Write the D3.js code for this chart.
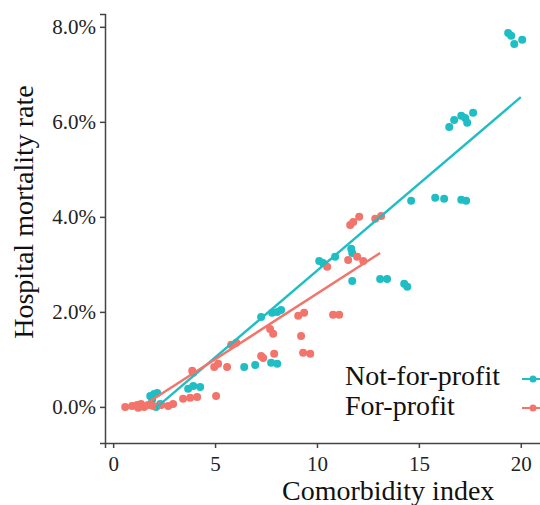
<!DOCTYPE html>
<html>
<head>
<meta charset="utf-8">
<script src="https://cdn.jsdelivr.net/npm/d3@7"></script>
<style>
	body { margin: 0; background: #fff; }
	svg { display: block; font-family: "Liberation Serif", "Times New Roman", serif; }
	.axis path, .axis line { stroke: #444; stroke-width: 1.5; }
	.axis text { fill: #222; font-size: 21px; font-family: "Liberation Serif", serif; }
	.title { fill: #111; font-size: 28px; }
</style>
</head>
<body>
<div id="chart"></div>
<script>
// Data: [comorbidity index, mortality rate]
const notForProfit = [
	[1.82, 0.0023], [2.01, 0.0027], [2.16, 0.0029], [1.91, 0.0015], [2.11, 0.0000], [2.31, 0.0006],
	[3.68, 0.0038], [3.93, 0.0044], [4.27, 0.0042],
	[6.43, 0.0084], [6.97, 0.0088], [7.75, 0.0093], [8.05, 0.0091],
	[7.26, 0.0189], [7.80, 0.0198], [8.05, 0.0200], [8.24, 0.0204],
	[10.11, 0.0307], [10.30, 0.0303], [10.89, 0.0316], [11.68, 0.0333], [11.73, 0.0324],
	[11.73, 0.0265], [13.10, 0.0269], [13.44, 0.0269], [14.28, 0.0259], [14.43, 0.0253],
	[14.62, 0.0434], [15.80, 0.0440], [16.24, 0.0438], [17.08, 0.0436], [17.32, 0.0434],
	[16.49, 0.0589], [16.73, 0.0604], [17.08, 0.0613], [17.27, 0.0608], [17.37, 0.0598], [17.66, 0.0619],
	[19.38, 0.0787], [19.53, 0.0781], [19.68, 0.0764], [20.07, 0.0773]
];
const forProfit = [
	[0.59, 0.0000], [0.93, 0.0002], [1.18, 0.0004], [1.23, -0.0002], [1.37, 0.0006], [1.52, 0.0000],
	[1.72, 0.0004], [1.96, 0.0002], [2.36, 0.0004], [2.70, 0.0002], [2.94, 0.0006],
	[3.43, 0.0017], [3.78, 0.0019], [4.12, 0.0021], [5.05, 0.0023],
	[3.88, 0.0076], [3.93, 0.0072], [4.96, 0.0084], [5.15, 0.0091], [5.59, 0.0084],
	[5.79, 0.0131], [6.04, 0.0135], [7.26, 0.0107], [7.36, 0.0103], [7.90, 0.0112],
	[7.70, 0.0164], [7.85, 0.0154], [9.22, 0.0149], [9.08, 0.0192], [9.37, 0.0198],
	[9.32, 0.0114], [9.67, 0.0112], [10.79, 0.0194], [11.09, 0.0194],
	[10.50, 0.0295], [11.53, 0.0309], [11.97, 0.0316], [12.27, 0.0307],
	[11.63, 0.0383], [11.78, 0.0389], [12.07, 0.0400], [12.86, 0.0396], [13.15, 0.0402]
];
// Fitted (lm) lines, endpoints
const notForProfitFit = [[2.1, -0.0002], [20.0, 0.0652]];
const forProfitFit = [[1.67, 0.0008], [13.1, 0.0324]];

const seriesNames = ["Not-for-profit", "For-profit"];
const seriesColors = ["#1FBEC4", "#F2746B"];
const xTicks = [0, 5, 10, 15, 20];
const yTicks = [0, 0.02, 0.04, 0.06, 0.08];

const width = 540, height = 505;
const svg = d3.select("#chart").append("svg")
	.attr("width", width).attr("height", height);

// Scales (x axis runs past the right edge, as in the cropped original)
const scaleX = d3.scaleLinear([-0.4, 21.6], [105, 553.4]);
const scaleY = d3.scaleLinear([-0.0076, 0.0827], [443, 14]);

// Axes
svg.append("g").classed("axis", true)
	.attr("transform", `translate(0, ${443})`)
	.call(d3.axisBottom(scaleX).tickValues(xTicks).tickSizeOuter(0).tickSize(5).tickPadding(8))
	.call(g => g.selectAll("text").attr("dy", "0.71em"));
svg.append("g").classed("axis", true)
	.attr("transform", `translate(${105}, 0)`)
	.call(d3.axisLeft(scaleY).tickValues(yTicks).tickFormat(d3.format(".1%")).tickSizeOuter(0).tickSize(5).tickPadding(4));

// Points
const groups = [notForProfit, forProfit];
groups.forEach((data, i) => {
	svg.append("g").selectAll("circle")
		.data(data).join("circle")
		.attr("cx", d => scaleX(d[0]))
		.attr("cy", d => scaleY(d[1]))
		.attr("r", 4)
		.attr("fill", seriesColors[i]);
});

// Fit lines
const line = d3.line().x(d => scaleX(d[0])).y(d => scaleY(d[1]));
[notForProfitFit, forProfitFit].forEach((data, i) => {
	svg.append("path").datum(data)
		.attr("d", line)
		.attr("fill", "none")
		.attr("stroke", seriesColors[i])
		.attr("stroke-width", 2.4);
});

// Labels
svg.append("text").classed("title", true)
	.attr("x", 282).attr("y", 500)
	.text("Comorbidity index");
svg.append("text").classed("title", true)
	.attr("transform", `translate(33, 212)rotate(-90)`)
	.style("text-anchor", "middle")
	.text("Hospital mortality rate");

// Legend
const legend = svg.append("g");
seriesNames.forEach((name, i) => {
	const yText = 385 + i * 30, yKey = 379 + i * 29;
	legend.append("text").classed("title", true)
		.attr("x", 345).attr("y", yText).text(name);
	legend.append("line")
		.attr("x1", 522).attr("x2", 548).attr("y1", yKey).attr("y2", yKey)
		.attr("stroke", seriesColors[i]).attr("stroke-width", 2);
	legend.append("circle")
		.attr("cx", 533).attr("cy", yKey).attr("r", 3.5)
		.attr("fill", seriesColors[i]);
});
</script>
</body>
</html>
